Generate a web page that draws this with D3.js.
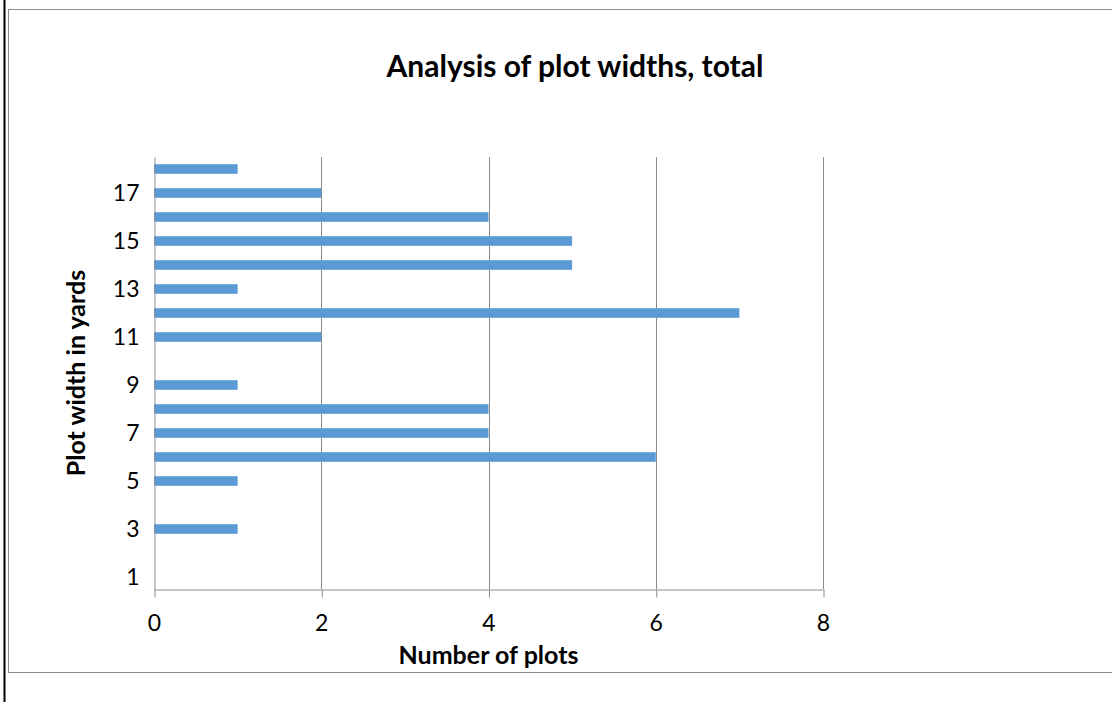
<!DOCTYPE html>
<html lang="en">
<head>
    <meta charset="UTF-8">
    <title>Analysis of plot widths</title>
    <script src="https://cdn.jsdelivr.net/npm/d3@7"></script>
    <style>
        html, body {
            margin: 0;
            background: white;
            font-family: Lato, "Open Sans", sans-serif;
        }
    </style>
</head>
<body>
    <div id="vis"></div>
    <script>

        // plot widths (yards) and number of plots
        var widths = [1, 2, 3, 4, 5, 6, 7, 8, 9, 10, 11, 12, 13, 14, 15, 16, 17, 18];
        var counts = [0, 0, 1, 0, 1, 6, 4, 4, 1, 0, 2, 7, 1, 5, 5, 4, 2, 1];
        var xTicks = [0, 2, 4, 6, 8];
        var yLabels = [1, 3, 5, 7, 9, 11, 13, 15, 17];

        var data = widths.map(function(w, i){ return {width: w, count: counts[i]}; });

        var W = 1112, H = 702;
        var margin = {top: 157, left: 154, right: 289, bottom: 113};
        var innerW = W - margin.left - margin.right;
        var innerH = H - margin.top - margin.bottom;

        var svg = d3.select('#vis')
            .append('svg')
            .attr('width', W)
            .attr('height', H);

        // outer page line and chart frame
        svg.append('line')
            .attr('x1', 4.5).attr('x2', 4.5)
            .attr('y1', 0).attr('y2', H)
            .attr('stroke', 'black')
            .attr('stroke-width', 2);

        svg.append('rect')
            .attr('x', 8.5).attr('y', 9.5)
            .attr('width', 1140).attr('height', 663)
            .attr('fill', 'none')
            .attr('stroke', '#8c8c8c')
            .attr('stroke-width', 1);

        var g = svg.append('g')
            .attr('transform', 'translate(' + margin.left + ',' + margin.top + ')');

        var x = d3.scaleLinear()
            .domain([0, 8])
            .range([0, innerW]);

        var y = d3.scaleBand()
            .domain(widths.slice().reverse())
            .range([0, innerH])
            .paddingInner(0.6)
            .paddingOuter(0.3);

        // vertical gridlines
        g.selectAll('.grid')
            .data(xTicks.slice(1))
            .enter()
            .append('line')
            .attr('class', 'grid')
            .attr('x1', function(d){ return Math.round(x(d)) + 0.5; })
            .attr('x2', function(d){ return Math.round(x(d)) + 0.5; })
            .attr('y1', 0)
            .attr('y2', innerH)
            .attr('stroke', '#8c8c8c');

        // bars
        g.selectAll('.bar')
            .data(data.filter(function(d){ return d.count > 0; }))
            .enter()
            .append('rect')
            .attr('class', 'bar')
            .attr('x', 0)
            .attr('y', function(d){ return y(d.width); })
            .attr('width', function(d){ return x(d.count); })
            .attr('height', y.bandwidth())
            .attr('fill', '#5b9bd5');

        // x axis
        var xAxis = g.append('g')
            .attr('transform', 'translate(0,' + (innerH + 0.5) + ')')
            .call(d3.axisBottom(x).tickValues(xTicks).tickSize(8).tickSizeOuter(0));
        xAxis.select('.domain').attr('stroke', '#8c8c8c');
        xAxis.selectAll('.tick line').attr('stroke', '#8c8c8c')
            .attr('transform', 'translate(0.5,0)');
        xAxis.selectAll('.tick text')
            .attr('dy', 0)
            .attr('y', 41)
            .attr('fill', 'black')
            .style('font-size', '23px')
            .style('font-family', 'Lato, sans-serif');

        // y axis
        var yAxis = g.append('g')
            .attr('transform', 'translate(0.5,0)')
            .call(d3.axisLeft(y).tickValues(yLabels).tickSize(0).tickPadding(15));
        yAxis.select('.domain').attr('stroke', '#8c8c8c');
        yAxis.selectAll('.tick text')
            .attr('dy', '0.36em')
            .attr('fill', 'black')
            .style('font-size', '23px')
            .style('font-family', 'Lato, sans-serif');

        // titles
        svg.append('text')
            .attr('x', 575)
            .attr('y', 77)
            .attr('text-anchor', 'middle')
            .style('font-size', '30px')
            .style('font-weight', 'bold')
            .text('Analysis of plot widths, total');

        svg.append('text')
            .attr('x', margin.left + innerW / 2)
            .attr('y', 664)
            .attr('text-anchor', 'middle')
            .style('font-size', '25px')
            .style('font-weight', 'bold')
            .text('Number of plots');

        svg.append('text')
            .attr('transform', 'translate(85,' + (margin.top + innerH / 2) + ')rotate(-90)')
            .attr('text-anchor', 'middle')
            .style('font-size', '25px')
            .style('font-weight', 'bold')
            .text('Plot width in yards');

    </script>
</body>
</html>
